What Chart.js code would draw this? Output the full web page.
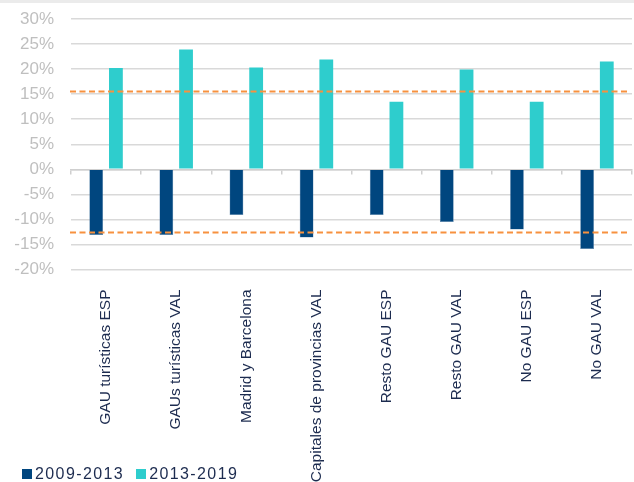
<!DOCTYPE html>
<html lang="es">
<head>
<meta charset="utf-8">
<title>Variación 2009-2013 / 2013-2019</title>
<script src="https://cdn.jsdelivr.net/npm/chart.js@4/dist/chart.umd.min.js"></script>
<style>
	html, body { margin: 0; padding: 0; background: #fff; }
	.wrap { position: relative; width: 634px; height: 482px; overflow: hidden; }
	.wrap canvas { position: absolute; left: 0; top: 0; }
	.top-band { position: absolute; left: 0; top: 0; width: 634px; height: 3px; background: #ebebeb; }
	.legend { position: absolute; left: 22px; top: 464px; font: 16px "Liberation Sans", Arial, sans-serif; color: #1c2b4f; letter-spacing: 1.4px; white-space: nowrap; }
	.legend span { display: inline-block; vertical-align: middle; }
	.legend .sw { width: 10px; height: 10px; margin-right: 3px; }
	.legend .item { margin-right: 12px; }
</style>
</head>
<body>
<div class="wrap">
	<canvas id="chart" width="634" height="482"></canvas>
	<div class="top-band"></div>
	<div class="legend" id="legend"></div>
</div>
<script>
(function () {
	'use strict';

	var categories = [
		'GAU turísticas ESP',
		'GAUs turísticas VAL',
		'Madrid y Barcelona',
		'Capitales de provincias VAL',
		'Resto GAU ESP',
		'Resto GAU VAL',
		'No GAU ESP',
		'No GAU VAL'
	];
	var serie0913 = [-13.1, -13.1, -9.1, -13.6, -9.1, -10.5, -12.0, -15.9];
	var serie1319 = [20.2, 23.9, 20.3, 21.9, 13.5, 19.9, 13.5, 21.5];
	var refLines = [15.7, -12.6];
	var yTicks = [-20, -15, -10, -5, 0, 5, 10, 15, 20, 25, 30];

	var colDark = '#00467f';
	var colTeal = '#2ecdcd';
	var colOrange = '#f7913f';
	var colGrid = '#d9d9d9';
	var colText = '#1c2b4f';

	// leyenda en HTML (se solapa con la etiqueta larga, como en el original)
	var legendEl = document.getElementById('legend');
	[['2009-2013', colDark], ['2013-2019', colTeal]].forEach(function (it) {
		var item = document.createElement('span');
		item.className = 'item';
		item.innerHTML = '<span class="sw" style="background:' + it[1] + '"></span><span>' + it[0] + '</span>';
		legendEl.appendChild(item);
	});

	var refLinePlugin = {
		id: 'refLines',
		afterDatasetsDraw: function (chart) {
			var ctx = chart.ctx;
			var y = chart.scales.y;
			var area = chart.chartArea;
			ctx.save();
			ctx.strokeStyle = colOrange;
			ctx.lineWidth = 2;
			ctx.setLineDash([6, 3.5]);
			refLines.forEach(function (v) {
				var py = Math.round(y.getPixelForValue(v)) + 0.5;
				ctx.beginPath();
				ctx.moveTo(area.left - 1, py);
				ctx.lineTo(area.right - 3, py);
				ctx.stroke();
			});
			ctx.restore();
		}
	};

	new Chart(document.getElementById('chart'), {
		type: 'bar',
		data: {
			labels: categories,
			datasets: [{
				label: '2009-2013',
				data: serie0913,
				backgroundColor: colDark,
				borderColor: '#5f86ad',
				borderWidth: 0.5,
				categoryPercentage: 0.562,
				barPercentage: 0.7
			}, {
				label: '2013-2019',
				data: serie1319,
				backgroundColor: colTeal,
				borderWidth: 0,
				categoryPercentage: 0.562,
				barPercentage: 0.7
			}]
		},
		options: {
			responsive: false,
			animation: false,
			layout: { padding: { top: 19, right: 2, left: 0, bottom: 0 } },
			plugins: {
				legend: { display: false },
				tooltip: { enabled: false }
			},
			scales: {
				x: {
					position: 'bottom',
					grid: { display: false },
					border: { display: false },
					ticks: {
						minRotation: 90,
						maxRotation: 90,
						autoSkip: false,
						padding: 12,
						color: colText,
						font: { family: '"Liberation Sans", Arial, sans-serif', size: 15.5 }
					},
					afterFit: function (scale) {
						scale.height = 212.5;
					}
				},
				xZero: {
					type: 'category',
					labels: categories,
					position: { y: 0 },
					offset: true,
					z: 1,
					grid: {
						offset: true,
						drawOnChartArea: false,
						drawTicks: true,
						tickLength: 4,
						color: '#cfcfcf',
						lineWidth: 1.5
					},
					border: { display: true, color: '#cfcfcf', width: 1.5 },
					ticks: { display: false }
				},
				y: {
					min: -20,
					max: 30,
					afterBuildTicks: function (scale) {
						scale.ticks = yTicks.map(function (v) { return { value: v }; });
					},
					grid: { color: colGrid, lineWidth: 1.5, drawTicks: false },
					border: { display: false },
					ticks: {
						padding: 17,
						color: '#bfbfbf',
						font: { family: '"Liberation Sans", Arial, sans-serif', size: 17 },
						callback: function (v) { return v + '%'; }
					},
					afterFit: function (scale) {
						scale.width = 71;
						// el padding de las etiquetas no debe empujar el área hacia abajo
						scale.paddingTop = 10;
						scale.paddingBottom = 10;
					}
				}
			}
		},
		plugins: [refLinePlugin]
	});
})();
</script>
</body>
</html>
